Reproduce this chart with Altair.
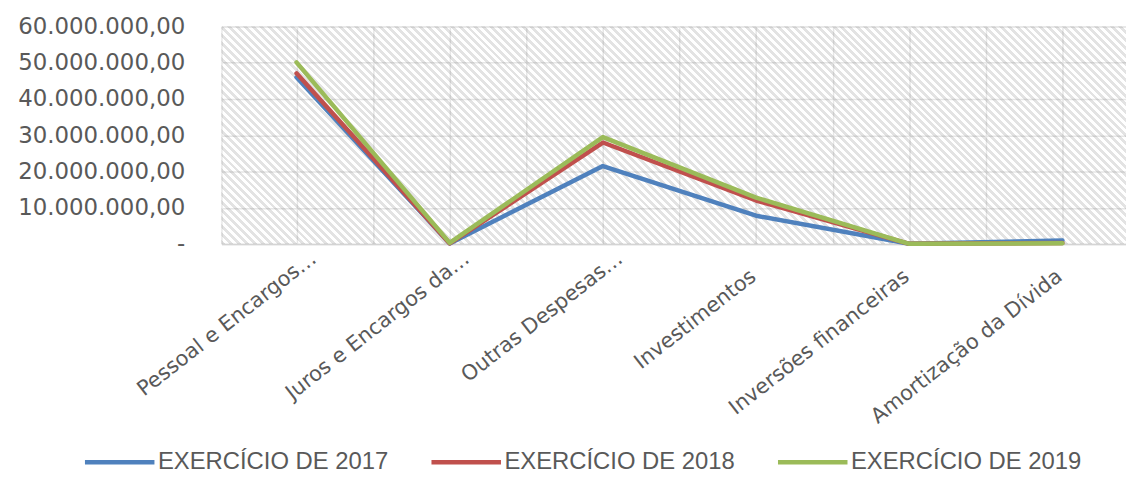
import json
import altair as alt
import pandas as pd

# ---- data ----
categorias = [
    "Pessoal e Encargos…",
    "Juros e Encargos da…",
    "Outras Despesas…",
    "Investimentos",
    "Inversões financeiras",
    "Amortização da Dívida",
]
series = ["EXERCÍCIO DE 2017", "EXERCÍCIO DE 2018", "EXERCÍCIO DE 2019"]
valores_2017 = [46_000_000, 150_000, 21_500_000, 7_800_000, 50_000, 1_000_000]
valores_2018 = [47_100_000, 150_000, 28_000_000, 12_000_000, 50_000, 250_000]
valores_2019 = [50_100_000, 300_000, 29_500_000, 12_800_000, 50_000, 200_000]
y_ticks = [0, 10_000_000, 20_000_000, 30_000_000, 40_000_000, 50_000_000, 60_000_000]
cores = ["#4F81BD", "#C0504D", "#9BBB59"]

rows = []
for nome, vals in zip(series, [valores_2017, valores_2018, valores_2019]):
    for i, v in enumerate(vals):
        rows.append({"idx": i, "serie": nome, "valor": v})
df = pd.DataFrame(rows)

W, H = 911, 219
GRID = "#e6e6e6"
TXT = "#595959"

# diagonal hatch ("\" stripes) as a linear gradient in bounding-box units
a = W / (W + H)
b = H / (W + H)
k = 1.0 / (a * a + b * b)
n_per = 141
stops = []
stripe = "rgba(0,0,0,0.11)"
clear = "rgba(0,0,0,0)"
for p in range(n_per):
    o0 = p / n_per
    o1 = (p + 0.5) / n_per
    o2 = (p + 1) / n_per
    stops += [
        {"offset": o0, "color": stripe},
        {"offset": o1, "color": stripe},
        {"offset": o1, "color": clear},
        {"offset": o2, "color": clear},
    ]
hatch = {
    "gradient": "linear",
    "x1": 0, "y1": 1,
    "x2": a * k, "y2": 1 - b * k,
    "stops": stops,
}

x_scale = alt.Scale(domain=[-0.49, 5.415], nice=False, zero=False)
y_scale = alt.Scale(domain=[0, 60_000_000], nice=False)

cat_js = json.dumps(categorias, ensure_ascii=False)

x_axis = alt.Axis(
    values=[i / 2 for i in range(0, 11)],
    labelExpr=f"datum.value % 1 == 0 ? {cat_js}[datum.value] : ''",
    labelAngle=322,
    labelAlign="right",
    labelBaseline="middle",
    labelFont="DejaVu Sans",
    labelFontSize=21,
    labelColor=TXT,
    labelPadding={"condition": {"test": "datum.value < 2.5", "value": 12}, "value": 30},
    labelLimit=1000,
    labelOffset={"condition": {"test": "datum.value < 2.5", "value": 17}, "value": -3},
    ticks=False,
    grid=True,
    gridColor=GRID,
    gridWidth=1.5,
    domainColor="#d4d4d4",
    domainWidth=1.5,
    title=None,
    labelOverlap=False,
    labelBound=False,
)

y_axis = alt.Axis(
    values=y_ticks,
    labelExpr="datum.value == 0 ? '-\u00a0\u00a0\u00a0' : format(datum.value / 1000000, 'd') + '.000.000,00'",
    labelFont="DejaVu Sans",
    labelFontSize=23,
    labelColor=TXT,
    labelPadding=37,
    labelLimit=1000,
    ticks=False,
    domain=False,
    grid=True,
    gridColor=GRID,
    gridWidth=1.5,
    title=None,
)

fundo = alt.Chart(pd.DataFrame({"z": [0]})).mark_rect(fill=hatch, strokeWidth=0).encode(
    x=alt.value(0), x2=alt.value("width"), y=alt.value(0), y2=alt.value("height")
)

linhas = alt.Chart(df).mark_line(strokeWidth=4.5, strokeCap="round", strokeJoin="round").encode(
    x=alt.X("idx:Q", scale=x_scale, axis=x_axis),
    y=alt.Y("valor:Q", scale=y_scale, axis=y_axis),
    color=alt.Color(
        "serie:N",
        scale=alt.Scale(domain=series, range=cores),
        legend=alt.Legend(
            title=None,
            orient="none",
            legendX=-140,
            legendY=401,
            direction="horizontal",
            symbolType="stroke",
            symbolSize=4900,
            symbolStrokeWidth=4.5,
            labelFont="Liberation Sans",
            labelFontSize=24,
            labelColor=TXT,
            labelOffset=1,
            labelLimit=1000,
            columnPadding=33,
        ),
    ),
)

chart = (
    alt.layer(fundo, linhas)
    .properties(width=W, height=H, padding={"left": 9, "top": 6, "right": 0, "bottom": 0})
    .configure_view(stroke=GRID, strokeWidth=1.5)
    .configure(background="white")
)

chart.save("out.html", embed_options={"renderer": "svg", "actions": False})
